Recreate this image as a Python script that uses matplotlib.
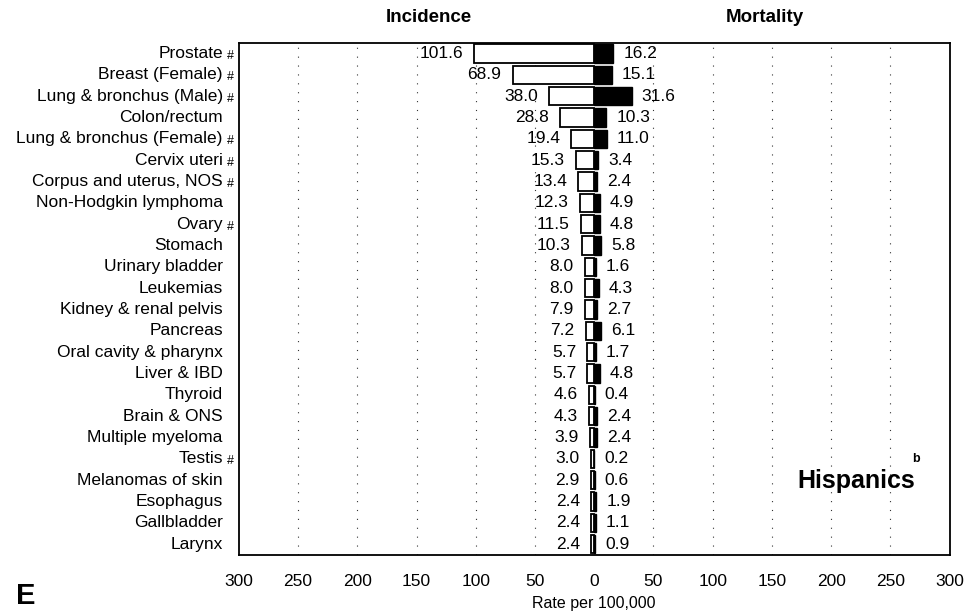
import numpy as np
import matplotlib.pyplot as plt
from matplotlib.transforms import blended_transform_factory

plt.rcParams['font.family'] = ['Liberation Sans', 'DejaVu Sans']

sites = ['Prostate', 'Breast (Female)', 'Lung & bronchus (Male)', 'Colon/rectum',
         'Lung & bronchus (Female)', 'Cervix uteri', 'Corpus and uterus, NOS',
         'Non-Hodgkin lymphoma', 'Ovary', 'Stomach', 'Urinary bladder', 'Leukemias',
         'Kidney & renal pelvis', 'Pancreas', 'Oral cavity & pharynx', 'Liver & IBD',
         'Thyroid', 'Brain & ONS', 'Multiple myeloma', 'Testis', 'Melanomas of skin',
         'Esophagus', 'Gallbladder', 'Larynx']
incidence = [101.6, 68.9, 38.0, 28.8, 19.4, 15.3, 13.4, 12.3, 11.5, 10.3, 8.0, 8.0,
             7.9, 7.2, 5.7, 5.7, 4.6, 4.3, 3.9, 3.0, 2.9, 2.4, 2.4, 2.4]
mortality = [16.2, 15.1, 31.6, 10.3, 11.0, 3.4, 2.4, 4.9, 4.8, 5.8, 1.6, 4.3,
             2.7, 6.1, 1.7, 4.8, 0.4, 2.4, 2.4, 0.2, 0.6, 1.9, 1.1, 0.9]
flagged = ['Prostate', 'Breast (Female)', 'Lung & bronchus (Male)',
           'Lung & bronchus (Female)', 'Cervix uteri', 'Corpus and uterus, NOS',
           'Ovary', 'Testis']
ticks = [-300, -250, -200, -150, -100, -50, 0, 50, 100, 150, 200, 250, 300]

fig = plt.figure(figsize=(9.67, 6.11), dpi=100)
ax = fig.add_axes([0.247, 0.092, 0.735, 0.838])

y = np.arange(len(sites))
ax.barh(y, [-v for v in incidence], height=0.85, color='white', edgecolor='black', linewidth=1.3, zorder=3)
ax.barh(y, mortality, height=0.85, color='black', edgecolor='black', linewidth=1.0, zorder=3)

for i in range(len(sites)):
    ax.annotate(f'{incidence[i]:.1f}', (-incidence[i], y[i]), xytext=(-8, 0),
                textcoords='offset points', ha='right', va='center', fontsize=12.5)
    ax.annotate(f'{mortality[i]:.1f}', (mortality[i], y[i]), xytext=(7, 0),
                textcoords='offset points', ha='left', va='center', fontsize=12.5)

# category labels, with small # marks
trans = blended_transform_factory(ax.transAxes, ax.transData)
for i, s in enumerate(sites):
    ax.text(-0.0225, y[i], s, transform=trans, ha='right', va='center', fontsize=12.5)
    if s in flagged:
        ax.text(-0.017, y[i] + 0.12, '#', transform=trans, ha='left', va='center', fontsize=9)

ax.set_xlim(-300, 300)
ax.set_ylim(len(sites) - 0.5, -0.5)
ax.set_yticks([])
ax.set_xticks(ticks)
ax.set_xticklabels([str(abs(t)) for t in ticks], fontsize=12.5)
ax.tick_params(axis='x', length=0, pad=14)
for t in ticks:
    if t not in (0, -300, 300):
        ax.axvline(t, color='#333333', linestyle=(0, (1, 7)), linewidth=0.8, zorder=1)
for sp in ax.spines.values():
    sp.set_linewidth(1.3)

ax.set_xlabel('Rate per 100,000', fontsize=11.5, labelpad=5)

fig.text(429 / 967, 1 - 18 / 611, 'Incidence', ha='center', va='center', fontsize=13.5, fontweight='bold')
fig.text(765 / 967, 1 - 18 / 611, 'Mortality', ha='center', va='center', fontsize=13.5, fontweight='bold')
fig.text(856 / 967, 1 - 481 / 611, 'Hispanics', ha='center', va='center', fontsize=18, fontweight='bold')
fig.text(916 / 967, 1 - 459 / 611, 'b', ha='center', va='center', fontsize=9, fontweight='bold')
fig.text(26 / 967, 1 - 596 / 611, 'E', ha='center', va='center', fontsize=21, fontweight='bold')

fig.savefig('out.png', dpi=100)
